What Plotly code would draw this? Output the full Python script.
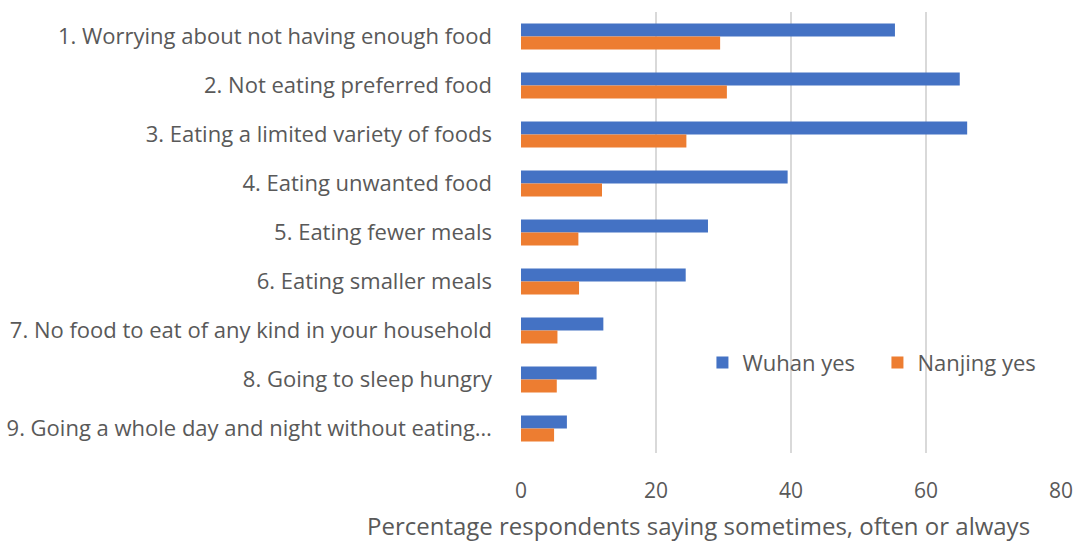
import plotly.graph_objects as go

categories = [
    "1. Worrying about not having enough food",
    "2. Not eating preferred food",
    "3. Eating a limited variety of foods",
    "4. Eating unwanted food",
    "5. Eating fewer meals",
    "6. Eating smaller meals",
    "7. No food to eat of any kind in your household",
    "8. Going to sleep hungry",
    "9. Going a whole day and night without eating…",
]
wuhan_yes = [55.4, 65.0, 66.1, 39.5, 27.7, 24.4, 12.2, 11.2, 6.8]
nanjing_yes = [29.5, 30.5, 24.5, 12.0, 8.5, 8.6, 5.4, 5.3, 4.9]
x_ticks = [0, 20, 40, 60, 80]
x_title = "Percentage respondents saying sometimes, often or always"

FONT = "'Open Sans', Lato, sans-serif"
GREY = "#595959"

fig = go.Figure()
fig.add_trace(go.Bar(y=categories, x=wuhan_yes, orientation="h", name="Wuhan yes",
                     marker=dict(color="#4472C4", line=dict(width=0))))
fig.add_trace(go.Bar(y=categories, x=nanjing_yes, orientation="h", name="Nanjing yes",
                     marker=dict(color="#ED7D31", line=dict(width=0))))

fig.update_layout(
    width=1075, height=542,
    margin=dict(l=521, r=14, t=12, b=89, pad=0, autoexpand=False),
    paper_bgcolor="white", plot_bgcolor="white",
    barmode="group", bargap=0.47, bargroupgap=0,
    font=dict(family=FONT, color=GREY, size=20),
    showlegend=True,
    legend=dict(orientation="h", x=0.336, y=0.205, xanchor="left", yanchor="middle",
                bgcolor="rgba(0,0,0,0)", font=dict(size=22, color=GREY),
                itemwidth=30, entrywidthmode="pixels", entrywidth=130),
)
fig.add_annotation(text=x_title, xref="paper", yref="paper", x=0.328, y=-0.165,
                   xanchor="center", yanchor="middle", showarrow=False,
                   font=dict(size=24, color=GREY, family=FONT))
fig.update_xaxes(range=[0, 80], tickvals=x_ticks, showgrid=True, gridcolor="#D9D9D9",
                 gridwidth=2, zeroline=False, showline=False, automargin=False,
                 tickfont=dict(size=21, color=GREY), ticklabelstandoff=23)
fig.update_yaxes(autorange="reversed", showgrid=False, showline=False, zeroline=False,
                 automargin=False, tickfont=dict(size=22, color=GREY), ticklabelstandoff=28)

fig.write_html("out.html", config={"displayModeBar": False},
               post_script="document.body.style.margin='0';document.body.style.overflow='hidden';")
